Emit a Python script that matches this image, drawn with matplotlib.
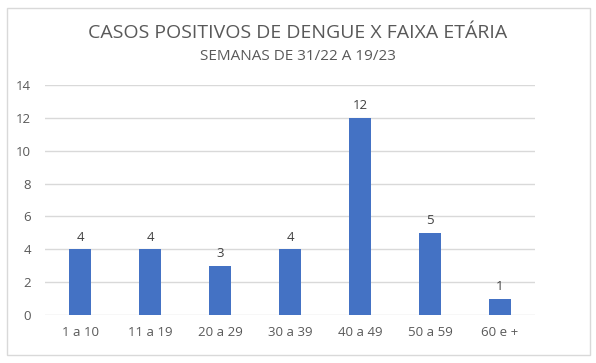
import matplotlib
matplotlib.use("Agg")
import matplotlib.pyplot as plt
from matplotlib.patches import Rectangle

# dados do grafico
faixas = ["1 a 10", "11 a 19", "20 a 29", "30 a 39", "40 a 49", "50 a 59", "60 e +"]
casos = [4, 4, 3, 4, 12, 5, 1]
yticks = [0, 2, 4, 6, 8, 10, 12, 14]

plt.rcParams["font.family"] = ["Open Sans", "DejaVu Sans"]
cinza = "#595959"

fig = plt.figure(figsize=(5.96, 3.63), dpi=100)
fig.patches.append(Rectangle((7 / 596, 8 / 363), 583 / 596, 347 / 363,
                             transform=fig.transFigure, fill=False,
                             edgecolor="#d9d9d9", linewidth=1))

ax = fig.add_axes([45 / 596, 1 - 315 / 363, 490 / 596, 230 / 363])
x = list(range(len(faixas)))
bars = ax.bar(x, casos, width=0.32, color="#4472C4", zorder=3)
for xi, v in zip(x, casos):
    ax.text(xi, v + 0.35, str(v), ha="center", va="bottom", fontsize=9.5, color="#404040")

ax.set_xlim(-0.5, len(faixas) - 0.5)
ax.set_ylim(0, 14)
ax.set_yticks(yticks)
ax.set_xticks(x)
ax.set_xticklabels(faixas)
ax.grid(axis="y", color="#d9d9d9", linewidth=1, zorder=0)
for s in ax.spines.values():
    s.set_visible(False)
ax.tick_params(axis="both", length=0, labelsize=9.5, labelcolor=cinza)
ax.tick_params(axis="y", pad=10)
ax.tick_params(axis="x", pad=8)

fig.text(0.5, 1 - 33 / 363, "CASOS POSITIVOS DE DENGUE X FAIXA ETÁRIA", ha="center",
         va="center", fontsize=14, color=cinza)
fig.text(0.5, 1 - 57 / 363, "SEMANAS DE 31/22 A 19/23", ha="center", va="center",
         fontsize=11, color=cinza)

fig.savefig("out.png", dpi=100)
